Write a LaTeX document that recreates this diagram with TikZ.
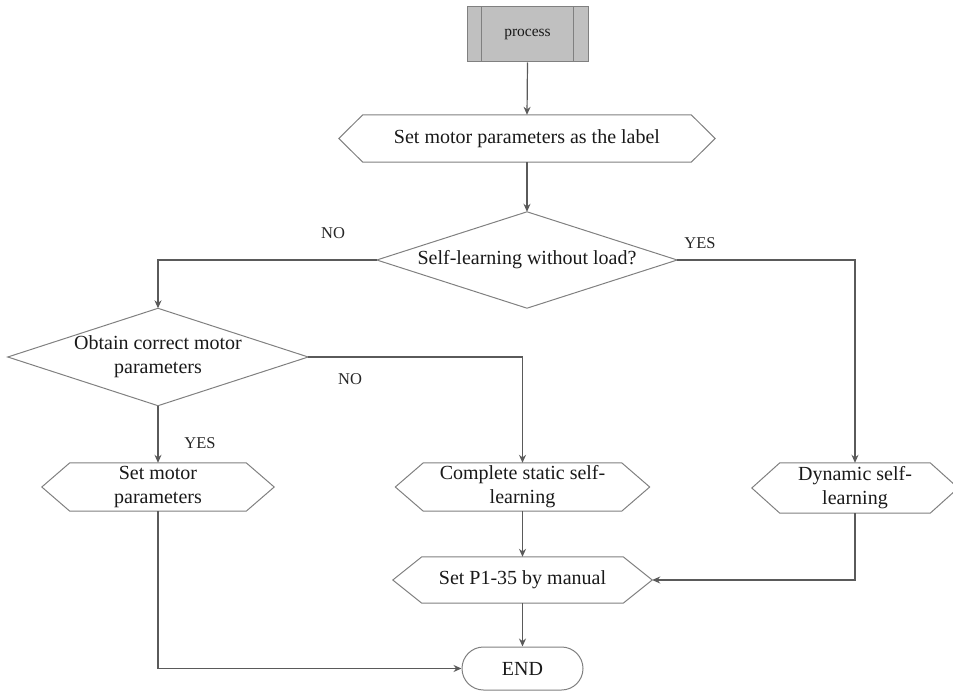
\documentclass[tikz,border=0pt]{standalone}
\usepackage{fontspec}
\setmainfont{Liberation Serif}
\usetikzlibrary{arrows.meta}
\definecolor{conn}{HTML}{5A5A5A}
\definecolor{outl}{HTML}{808080}
\definecolor{procfill}{HTML}{C0C0C0}
\tikzset{
  box/.style={draw=none, inner sep=0pt, align=center, text=black!90,
    font=\fontsize{20}{24}\selectfont},
  lbl/.style={inner sep=0pt, font=\fontsize{16.5}{18}\selectfont, text=black!85},
  outline/.style={draw=outl, line width=1pt},
  link/.style={draw=conn, line width=1.2pt, -{Stealth[length=8pt,width=7pt]}},
  plainlink/.style={draw=conn, line width=1.2pt}
}
\begin{document}
\begin{tikzpicture}[x=1pt,y=-1pt]
\useasboundingbox (0,0) rectangle (953,695);
% nodes
\node[box, minimum width=121pt, minimum height=55pt, fill=procfill, draw=outl, line width=1pt,
      font=\fontsize{15.5}{18}\selectfont] (proc) at (527.5,34.5) {process};
\node[box, minimum width=376pt, minimum height=47pt] (h1) at (527,138.5) {Set motor parameters as the label};
\node[box, minimum width=300pt, minimum height=96pt] (d1) at (527,260) {Self-learning without load?};
\node[box, minimum width=300pt, minimum height=97pt] (d2) at (158,357) {Obtain correct motor\\parameters};
\node[box, minimum width=232pt, minimum height=48pt] (h2) at (158,487) {Set motor\\parameters};
\node[box, minimum width=254pt, minimum height=48pt] (h3) at (522.5,487) {Complete static self-\\learning};
\node[box, minimum width=206pt, minimum height=50pt] (h4) at (855,488) {Dynamic self-\\learning};
\node[box, minimum width=259pt, minimum height=46pt] (h5) at (522.5,580) {Set P1-35 by manual};
\node[box, minimum width=121pt, minimum height=43pt, draw=outl, line width=1pt,
      rounded corners=21.5pt] (endn) at (522.5,668.5) {END};
% process inner lines
\draw[outline] ([xshift=15pt]proc.north west) -- ([xshift=15pt]proc.south west);
\draw[outline] ([xshift=-15pt]proc.north east) -- ([xshift=-15pt]proc.south east);
% hexagons
\foreach \n/\i in {h1/24, h2/28, h3/28, h4/28, h5/29}{
  \draw[outline] ([xshift=\i pt]\n.north west) -- ([xshift=-\i pt]\n.north east) -- (\n.east)
    -- ([xshift=-\i pt]\n.south east) -- ([xshift=\i pt]\n.south west) -- (\n.west) -- cycle;
}
% diamonds
\foreach \n in {d1, d2}{
  \draw[outline] (\n.north) -- (\n.east) -- (\n.south) -- (\n.west) -- cycle;
}
% connectors
\draw[link] (proc.south) -- (h1.north);
\draw[link] (h1.south) -- (d1.north);
\draw[link] (d1.west) -| (d2.north);
\draw[link] (d1.east) -| (h4.north);
\draw[link] (d2.east) -| (h3.north);
\draw[link] (d2.south) -- (h2.north);
\draw[link] (h3.south) -- (h5.north);
\draw[link] (h4.south) |- (h5.east);
\draw[link] (h5.south) -- (endn.north);
\draw[link] (h2.south) |- (endn.west);
% labels
\node[lbl] (no1) at (333,233) {NO};
\node[lbl] (yes1) at (700,243) {YES};
\node[lbl] (no2) at (350,379) {NO};
\node[lbl] (yes2) at (200,443) {YES};
\end{tikzpicture}
\end{document}
